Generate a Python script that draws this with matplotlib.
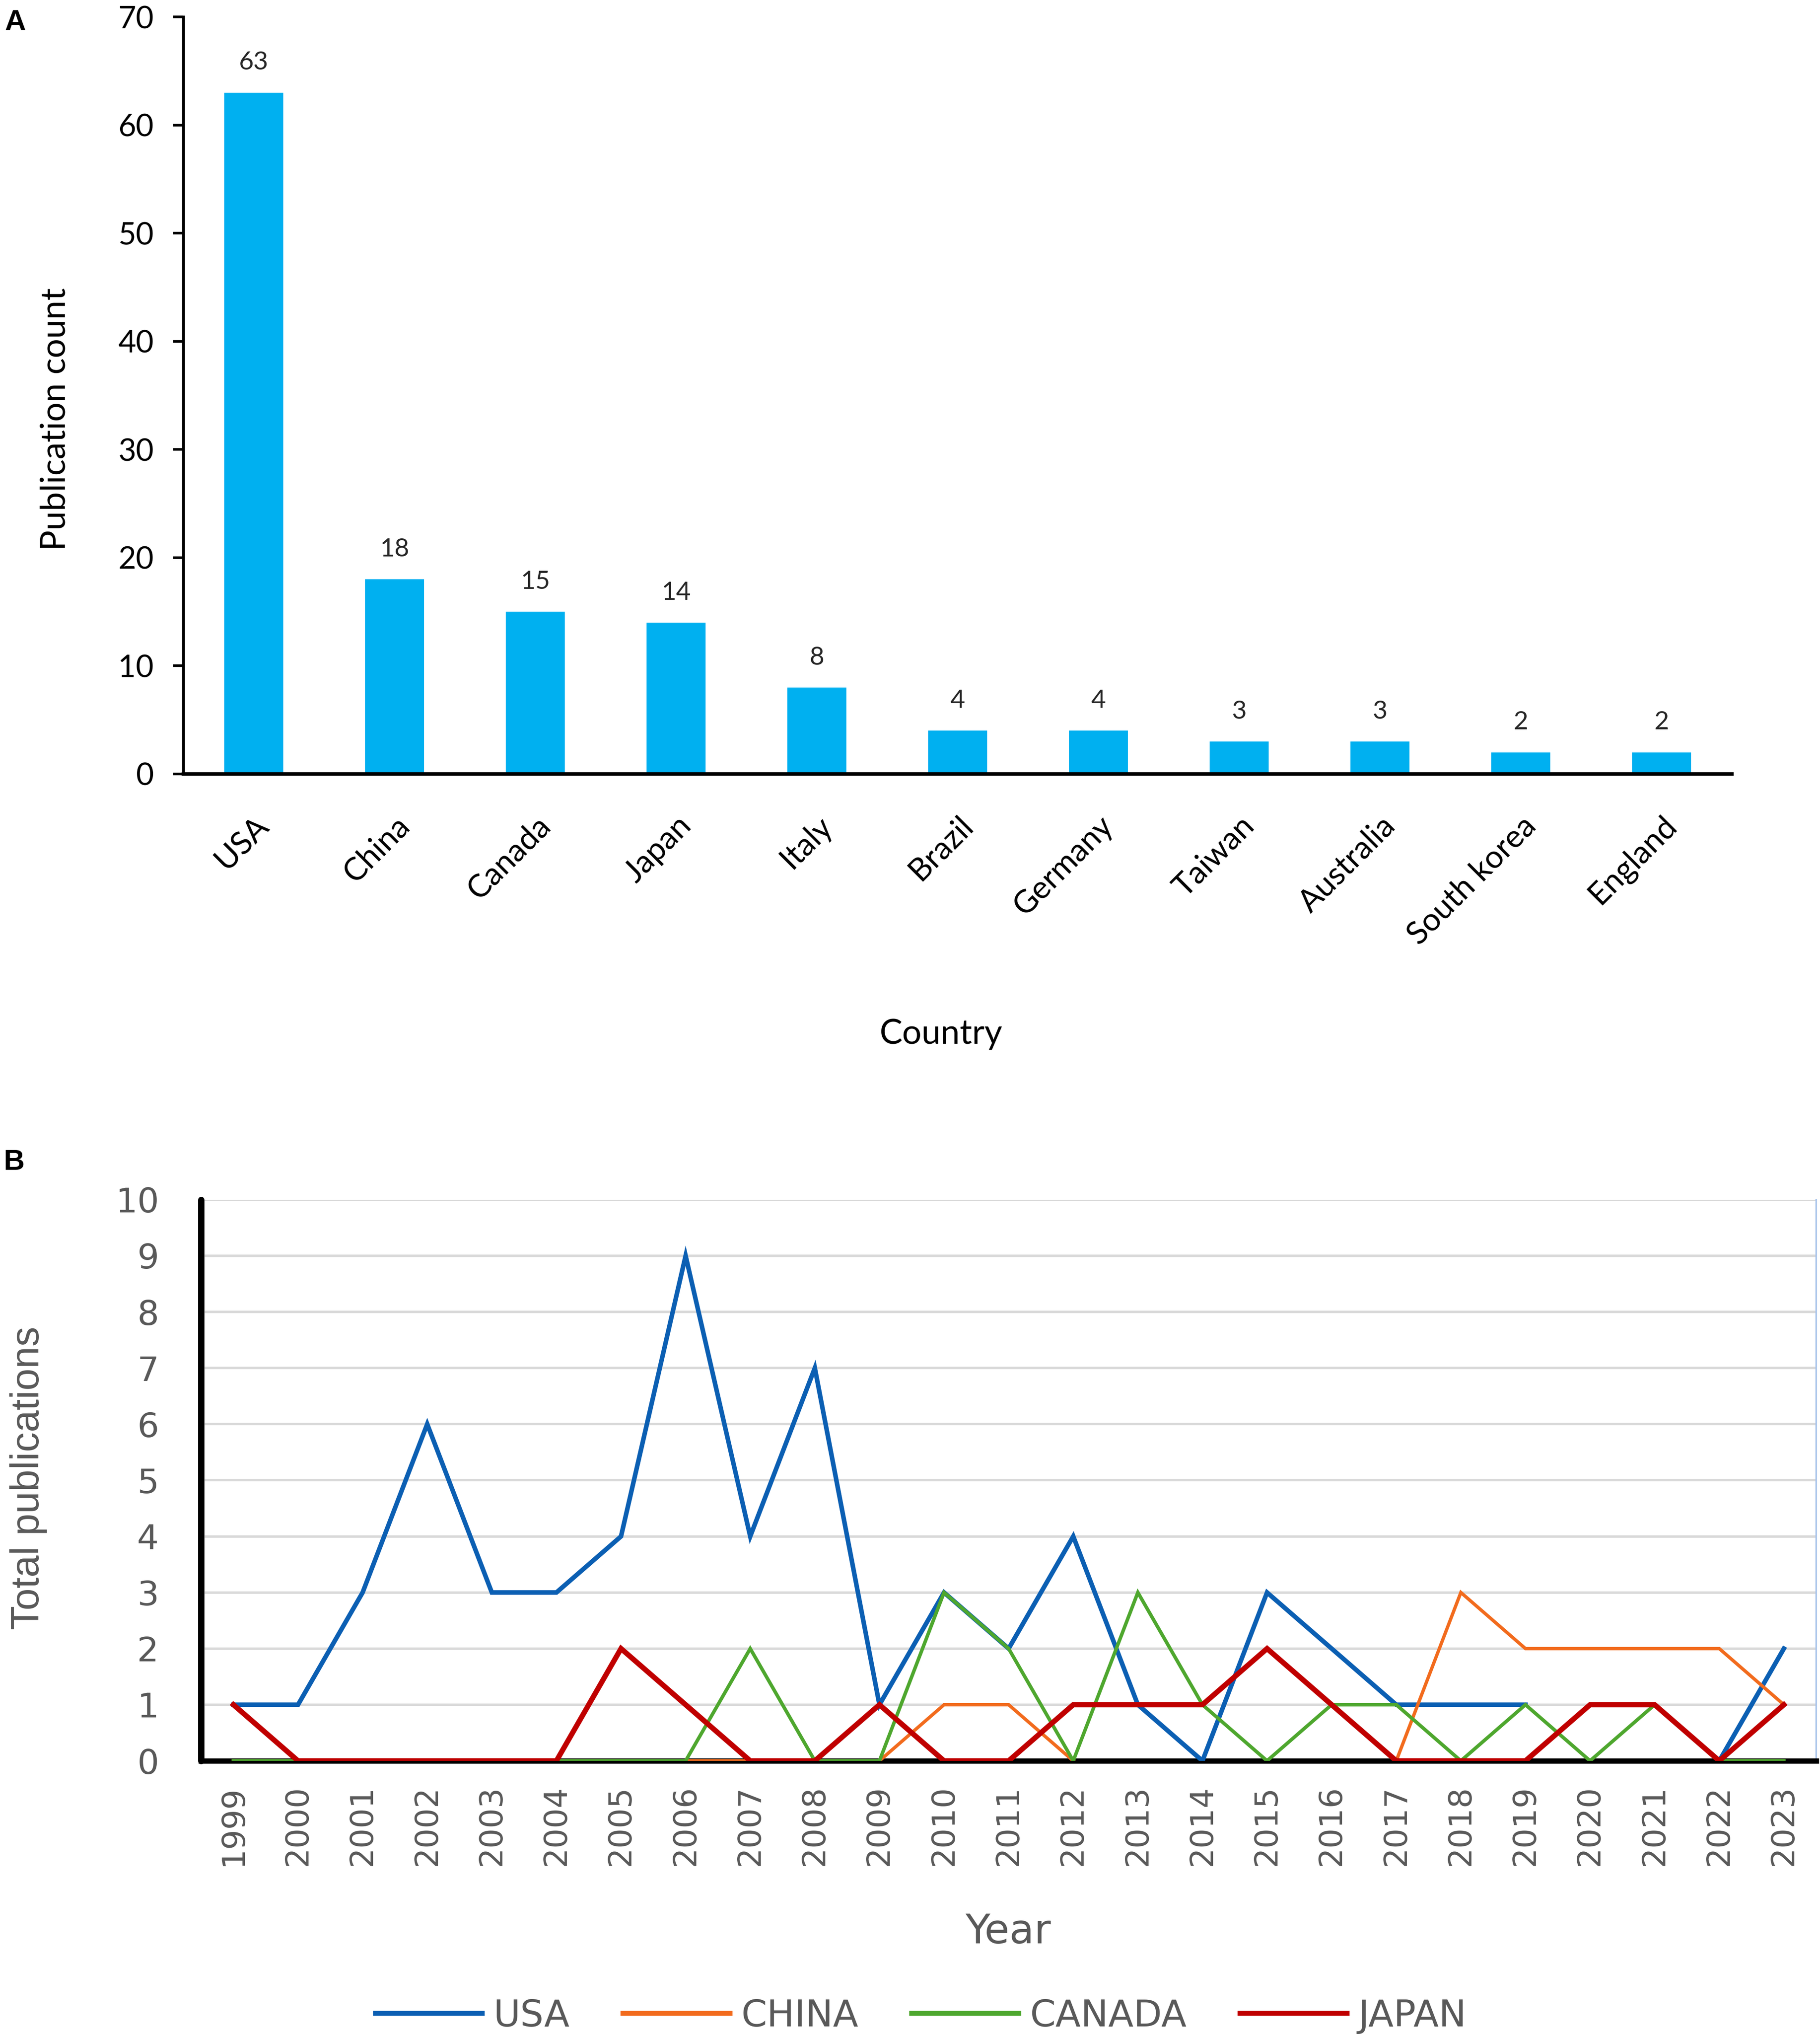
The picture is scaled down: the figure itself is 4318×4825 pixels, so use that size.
import numpy as np
import matplotlib.pyplot as plt

# panel A: publications per country
countries = ["USA", "China", "Canada", "Japan", "Italy", "Brazil", "Germany",
             "Taiwan", "Australia", "South korea", "England"]
counts = [63, 18, 15, 14, 8, 4, 4, 3, 3, 2, 2]

# panel B: yearly publications of the four top countries (nan = no point)
nan = np.nan
years  = list(range(1999, 2024))
usa    = [1, 1, 3, 6, 3, 3, 4, 9, 4, 7, 1, 3, 2, 4, 1, 0, 3, 2, 1, 1, 1, nan, nan, 0, 2]
china  = [0, 0, 0, 0, 0, 0, 0, 0, 0, 0, 0, 1, 1, 0, nan, nan, nan, nan, 0, 3, 2, 2, 2, 2, 1]
canada = [0, 0, 0, 0, 0, 0, 0, 0, 2, 0, 0, 3, 2, 0, 3, 1, 0, 1, 1, 0, 1, 0, 1, 0, 0]
japan  = [1, 0, 0, 0, 0, 0, 2, 1, 0, 0, 1, 0, 0, 1, 1, 1, 2, 1, 0, 0, 0, 1, 1, 0, 1]

GRAY = "#595959"

fig = plt.figure(figsize=(4318 / 300, 4825 / 300), dpi=300)

# ---------------- panel A ----------------
axA = fig.add_axes([0.1007, 0.6195, 0.9516 - 0.1007, 0.9917 - 0.6195])
xa = np.arange(len(countries))
axA.bar(xa, counts, width=0.42, color="#00B0F0", zorder=2)
for x, v in zip(xa, counts):
    axA.annotate(str(v), (x, v), xytext=(0, 13), textcoords="offset points",
                 ha="center", va="baseline", fontsize=14.5,
                 family="Lato", color="#262626")

axA.set_xlim(-0.5, len(countries) - 0.5)
axA.set_ylim(0, 70)
axA.set_yticks(range(0, 71, 10))
axA.set_xticks(xa)
axA.set_xticklabels(countries, rotation=45, ha="right", va="top",
                    rotation_mode="anchor", family="Lato", fontsize=18)
axA.tick_params(axis="x", length=0, pad=21)
axA.tick_params(axis="y", length=5.8, width=1.5, pad=11, labelsize=17.5)
for lab in axA.get_yticklabels():
    lab.set_family("Lato")
for s in ("top", "right"):
    axA.spines[s].set_visible(False)
axA.spines["left"].set_linewidth(1.6)
axA.spines["bottom"].set_linewidth(2.0)

fig.text(0.0305, 0.7938, "Publication count", rotation=90, ha="center",
         va="center", family="Lato", fontsize=19.5)
fig.text(0.517, 0.4868, "Country", ha="center", va="baseline",
         family="Lato", fontsize=19.5)
fig.text(0.0025, 0.9853, "A", ha="left", va="baseline",
         family="Liberation Sans", weight="bold", fontsize=16.5)

# ---------------- panel B ----------------
axB = fig.add_axes([0.1105, 0.1343, 0.9979 - 0.1105, 0.4102 - 0.1343])
xb = np.arange(len(years))
series = [("USA", usa, "#0B5FB3", 2.6),
          ("CHINA", china, "#F26B1D", 1.9),
          ("CANADA", canada, "#4EA72E", 2.0),
          ("JAPAN", japan, "#C00000", 3.0)]
for name, vals, col, lw in series:
    axB.plot(xb, vals, color=col, lw=lw, label=name, zorder=3,
             solid_joinstyle="miter")

axB.set_xlim(-0.5, len(years) - 0.5)
axB.set_ylim(0, 10)
axB.set_yticks(range(0, 11))
axB.set_xticks(xb)
axB.set_xticklabels([str(y) for y in years], rotation=90)
axB.yaxis.grid(True, color="#D9D9D9", lw=1.4, zorder=0)
axB.set_axisbelow(True)
axB.tick_params(axis="y", length=0, pad=24, labelsize=19.5, labelcolor=GRAY)
axB.tick_params(axis="x", length=0, pad=14, labelsize=18, labelcolor=GRAY)
axB.spines["top"].set_visible(False)
axB.spines["right"].set_color("#A9C4EB")
axB.spines["right"].set_linewidth(0.9)
axB.spines["left"].set_linewidth(3.6)
axB.spines["bottom"].set_linewidth(3.0)
axB.spines["left"].set_capstyle("round")

fig.text(0.0157, 0.2734, "Total publications", rotation=90, ha="center",
         va="center", family="Liberation Sans", fontsize=22.5, color=GRAY)
fig.text(0.554, 0.0446, "Year", ha="center", va="baseline",
         fontsize=23, color=GRAY)
fig.text(0.002, 0.4249, "B", ha="left", va="baseline",
         family="Liberation Sans", weight="bold", fontsize=16.5)

leg = fig.legend(loc="center", bbox_to_anchor=(0.506, 0.0087), ncol=4,
                 frameon=False, fontsize=21, handlelength=2.9,
                 handletextpad=0.3, columnspacing=1.45, borderpad=0,
                 labelcolor=GRAY)
for h in leg.get_lines():
    h.set_linewidth(2.8)

fig.savefig("out.png", dpi=300)
